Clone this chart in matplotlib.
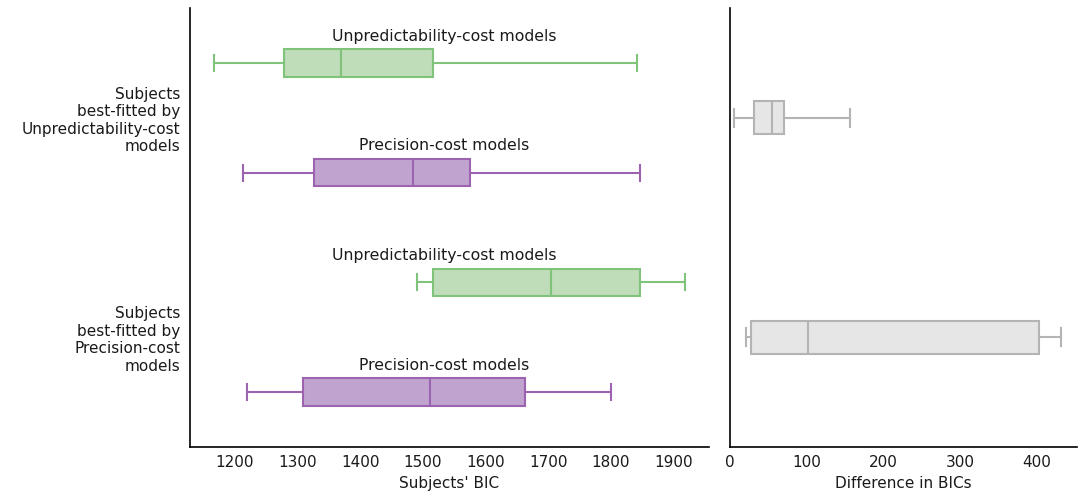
import matplotlib
matplotlib.use("Agg")
import matplotlib.pyplot as plt
from matplotlib.transforms import blended_transform_factory

plt.rcParams['font.family'] = ['DejaVu Sans']
plt.rcParams['font.size'] = 11

# Box summaries (whisker low, Q1, median, Q3, whisker high), top to bottom
bic_labels = ["Unpredictability-cost models", "Precision-cost models",
              "Unpredictability-cost models", "Precision-cost models"]
bic_whislo = [1166, 1213, 1491, 1219]
bic_q1 = [1278, 1326, 1516, 1309]
bic_med = [1369, 1484, 1705, 1511]
bic_q3 = [1516, 1575, 1847, 1663]
bic_whishi = [1842, 1847, 1919, 1801]

diff_whislo = [5, 21]
diff_q1 = [31, 27]
diff_med = [55, 102]
diff_q3 = [71, 403]
diff_whishi = [157, 431]

group_labels = ["Subjects\nbest-fitted by\nUnpredictability-cost\nmodels",
                "Subjects\nbest-fitted by\nPrecision-cost\nmodels"]

green_fill, green_edge = "#bfddb8", "#80c47c"
purple_fill, purple_edge = "#c0a4cf", "#9c63b0"
grey_fill, grey_edge = "#e5e6e5", "#b4b4b4"
text_color = "#1a1a1a"


def make_stats(lo, q1, med, q3, hi):
    return [dict(whislo=a, q1=b, med=c, q3=d, whishi=e, fliers=[])
            for a, b, c, d, e in zip(lo, q1, med, q3, hi)]


def draw(ax, stats, positions, width, capw, fills, edges):
    for s, p, fc, ec in zip(stats, positions, fills, edges):
        ax.bxp([s], positions=[p], vert=False, widths=width, capwidths=capw,
               patch_artist=True, showfliers=False, manage_ticks=False,
               boxprops=dict(facecolor=fc, edgecolor=ec, linewidth=1.5),
               medianprops=dict(color=ec, linewidth=1.5),
               whiskerprops=dict(color=ec, linewidth=1.5),
               capprops=dict(color=ec, linewidth=1.5))


fig = plt.figure(figsize=(10.83, 4.92), dpi=100)
ax1 = fig.add_axes([0.1754, 0.0915, 0.4793, 0.8922])
ax2 = fig.add_axes([0.6740, 0.0915, 0.3205, 0.8922])

bic_pos = [3, 2, 1, 0]
draw(ax1, make_stats(bic_whislo, bic_q1, bic_med, bic_q3, bic_whishi),
     bic_pos, 0.25, 0.145,
     [green_fill, purple_fill, green_fill, purple_fill],
     [green_edge, purple_edge, green_edge, purple_edge])
ax1.set_ylim(-0.5, 3.5)
ax1.margins(x=0.05)
ax1.set_xticks([1200, 1300, 1400, 1500, 1600, 1700, 1800, 1900])
ax1.set_xlabel("Subjects' BIC")

trans = blended_transform_factory(ax1.transAxes, ax1.transData)
for lab, p in zip(bic_labels, bic_pos):
    ax1.text(0.49, p + 0.245, lab, transform=trans, ha='center', va='center',
             color=text_color, fontsize=11.3)

group_pos = [2.5, 0.5]
ax1.set_yticks(group_pos)
ax1.set_yticklabels(group_labels, ha='right', multialignment='right')
ax1.tick_params(axis='y', length=0, pad=7)
ax1.tick_params(axis='x', length=0, pad=6)

draw(ax2, make_stats(diff_whislo, diff_q1, diff_med, diff_q3, diff_whishi),
     group_pos, 0.3, 0.16, [grey_fill, grey_fill], [grey_edge, grey_edge])
ax2.set_ylim(-0.5, 3.5)
ax2.margins(x=0.05)
ax2.set_xlim(left=0)
ax2.set_xticks([0, 100, 200, 300, 400])
ax2.set_yticks([])
ax2.set_xlabel("Difference in BICs")
ax2.tick_params(axis='x', length=0, pad=6)

for ax in (ax1, ax2):
    ax.spines['top'].set_visible(False)
    ax.spines['right'].set_visible(False)
    ax.spines['left'].set_linewidth(1.2)
    ax.spines['bottom'].set_linewidth(1.2)
    ax.xaxis.label.set_color(text_color)
    ax.tick_params(colors=text_color)

fig.savefig("out.png", dpi=100)
